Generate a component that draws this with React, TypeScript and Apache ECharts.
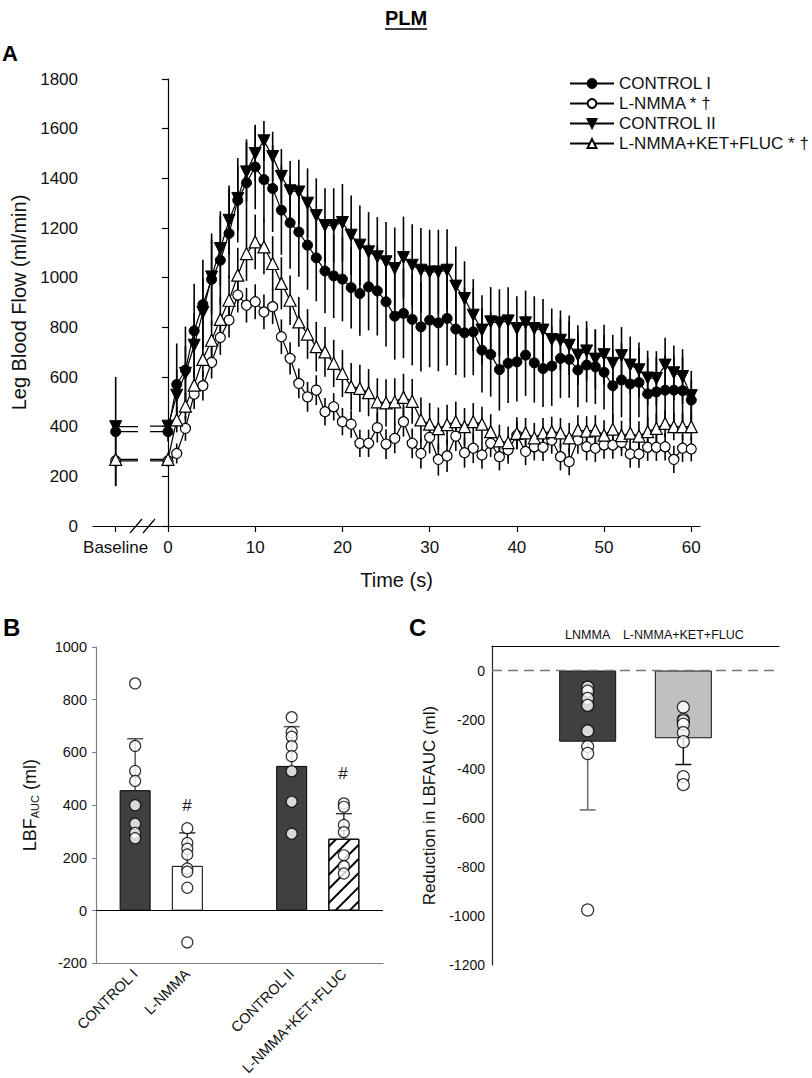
import React, { useEffect, useRef } from "react";
import * as echarts from "echarts";

const FONT = "'Liberation Sans', Arial, Helvetica, sans-serif";

// ---------- Panel A data ----------
const timeSec = [0,1,2,3,4,5,6,7,8,9,10,11,12,13,14,15,16,17,18,19,20,21,22,23,24,25,26,27,28,29,30,31,32,33,34,35,36,37,38,39,40,41,42,43,44,45,46,47,48,49,50,51,52,53,54,55,56,57,58,59,60];
const baselineTickLabel = "Baseline";
const BASELINE_X = -6;
const BREAK_LEFT = -3.44;
const BREAK_MID = -2.75;
const BREAK_RIGHT = -2.06;
const xTickValuesA = [-6, 0, 10, 20, 30, 40, 50, 60];

const seriesNames = ["CONTROL I", "L-NMMA * †", "CONTROL II", "L-NMMA+KET+FLUC * †"];

const baseCtrl1 = 380, baseCtrl1SE = 220;
const baseLnmma = 262, baseLnmmaSE = 100;
const baseCtrl2 = 400, baseCtrl2SE = 20;
const baseKet = 268, baseKetSE = 20;

const ctrl1 = [380,570,628,786,892,993,1070,1178,1312,1382,1446,1395,1359,1272,1221,1184,1131,1080,1027,1007,994,960,936,963,947,903,845,856,832,802,829,818,836,793,778,782,708,691,630,655,661,688,657,634,644,675,671,628,648,641,619,565,588,572,578,532,540,547,547,545,507];
const ctrl2 = [402,527,615,728,860,1003,1117,1231,1319,1426,1500,1551,1488,1408,1350,1345,1300,1250,1210,1210,1222,1171,1131,1104,1084,1064,1037,1081,1050,1030,1023,1023,1030,966,916,849,789,822,818,826,795,818,795,789,751,748,728,688,705,672,690,655,686,648,629,596,594,648,617,602,525];
const lnmma = [262,292,393,531,565,659,759,829,930,889,903,862,883,762,675,574,520,547,460,480,420,410,333,333,396,330,353,420,333,292,357,268,282,362,295,313,286,333,279,306,365,300,319,317,346,279,259,346,319,313,326,326,336,290,290,317,317,319,268,313,310];
const ket = [268,427,483,567,671,748,832,909,1010,1097,1144,1124,1057,977,909,822,773,722,701,655,614,561,554,537,500,496,500,518,502,427,410,392,408,420,400,420,410,380,343,336,373,375,355,375,380,375,355,386,382,386,366,390,364,374,362,380,393,413,400,400,400];

const ctrl1SE = [40,165,175,190,180,185,180,180,170,175,170,170,175,180,185,180,180,175,170,170,170,165,170,175,180,180,175,180,185,180,190,195,190,185,180,175,170,170,165,160,160,165,160,155,160,160,155,150,150,150,150,145,150,145,140,145,140,140,140,135,80];
const ctrl2SE = [20,100,110,130,140,150,150,140,130,120,110,80,100,110,120,130,140,150,150,150,155,160,160,160,160,160,165,165,165,170,170,170,165,160,150,145,140,140,135,135,130,130,130,125,125,120,120,120,120,120,120,115,115,115,110,110,110,110,110,110,100];
const lnmmaSE = [20,40,50,60,60,65,70,70,70,70,70,70,70,70,65,60,60,60,55,55,55,55,55,55,60,60,60,60,60,60,65,65,65,60,60,60,55,55,55,55,55,55,55,55,55,55,55,55,55,55,55,55,55,55,55,55,55,55,55,55,50];
const ketSE = [20,50,55,60,70,80,90,100,110,110,110,110,110,105,100,100,100,100,100,95,95,95,95,95,95,95,95,95,90,90,85,85,80,80,75,75,70,70,65,65,65,60,60,60,60,60,60,60,60,60,60,60,60,60,60,60,60,55,55,55,55];

// ---------- Panel B data ----------
const bCats = ["CONTROL I", "L-NMMA", "CONTROL II", "L-NMMA+KET+FLUC"];
const bPos = [1, 2, 4, 5];
const bMeans = [457, 170, 549, 273];
const bSD = [195, 125, 149, 95];
const bPoints = [
  [862, 625, 530, 492, 400, 330, 295, 275],
  [313, 257, 235, 213, 160, 148, 87, -120],
  [734, 677, 660, 624, 586, 529, 413, 292],
  [407, 394, 325, 298, 210, 169, 141],
];
const bYTicks = { min: -200, max: 1000, step: 200 };

// ---------- Panel C data ----------
const cCats = ["LNMMA", "L-NMMA+KET+FLUC"];
const cPos = [1, 2];
const cMeans = [-290, -276];
const cSD = [278, 107];
const cPoints = [
  [-68, -84, -114, -142, -246, -310, -338, -976],
  [-149, -199, -205, -219, -253, -290, -433, -465],
];
const cYTicks = [-1200, -1000, -800, -600, -400, -200, 0];

const plain = (v: number) => String(v);

function lineData(base: number, vals: number[]) {
  return [
    [BASELINE_X, base],
    { value: [BREAK_LEFT, base], symbol: "none" },
    [BREAK_MID, "-"],
    { value: [BREAK_RIGHT, vals[0]], symbol: "none" },
    ...timeSec.map((t, i) => [t, vals[i]]),
  ];
}

function errData(base: number, baseSE: number, vals: number[], se: number[]) {
  return [
    [BASELINE_X, base - baseSE, base + baseSE],
    ...timeSec.map((t, i) => [t, vals[i] - se[i], vals[i] + se[i]]),
  ];
}

function errSeriesA(data: any[]) {
  return {
    type: "custom",
    xAxisIndex: 0,
    yAxisIndex: 0,
    z: 1,
    silent: true,
    data,
    encode: { x: 0, y: [1, 2] },
    renderItem: (_p: any, api: any) => {
      const x = api.value(0);
      const a = api.coord([x, api.value(1)]);
      const b = api.coord([x, api.value(2)]);
      return {
        type: "line",
        shape: { x1: a[0], y1: a[1], x2: b[0], y2: b[1] },
        style: { stroke: "#000", lineWidth: 1.6 },
      };
    },
  };
}

function capErrSeries(xi: number, yi: number, data: any[], colors: string[], capHalf: number) {
  return {
    type: "custom",
    xAxisIndex: xi,
    yAxisIndex: yi,
    z: 4,
    silent: true,
    data,
    encode: { x: 0, y: [1, 2] },
    renderItem: (p: any, api: any) => {
      const x = api.value(0);
      const a = api.coord([x, api.value(1)]);
      const b = api.coord([x, api.value(2)]);
      const c = colors[p.dataIndex];
      return {
        type: "group",
        children: [
          { type: "line", shape: { x1: a[0], y1: a[1], x2: b[0], y2: b[1] }, style: { stroke: c, lineWidth: 1.5 } },
          { type: "line", shape: { x1: b[0] - capHalf, y1: b[1], x2: b[0] + capHalf, y2: b[1] }, style: { stroke: c, lineWidth: 1.5 } },
        ],
      };
    },
  };
}

const openStyle = { color: "#fff", borderColor: "#000", borderWidth: 1.2 };
const filledStyle = { color: "#000", borderColor: "#000", borderWidth: 1 };

export default function App() {
  const ref = useRef<HTMLDivElement>(null);
  useEffect(() => {
    if (!ref.current) return;
    const chart = echarts.init(ref.current, null, { renderer: "svg" });

    const lineCommon = {
      type: "line",
      xAxisIndex: 0,
      yAxisIndex: 0,
      z: 3,
      lineStyle: { color: "#000", width: 1.2 },
    };

    const option: any = {
      animation: false,
      textStyle: { fontFamily: FONT, color: "#111" },
      grid: [
        { left: 93, top: 79, width: 607, height: 447 },
        { left: 96, top: 647, width: 287, height: 319 },
        { left: 492, top: 646, width: 287, height: 319 },
      ],
      legend: {
        data: seriesNames,
        orient: "vertical",
        left: 564,
        top: 70,
        itemWidth: 44,
        itemHeight: 11,
        itemGap: 3,
        textStyle: { fontSize: 17, color: "#111", fontFamily: FONT, lineHeight: 17 },
      },
      xAxis: [
        {
          type: "value",
          gridIndex: 0,
          min: -8.6,
          max: 61,
          splitLine: { show: false },
          axisLine: { lineStyle: { color: "#000", width: 1.2 } },
          axisTick: { customValues: xTickValuesA, length: 6, lineStyle: { color: "#000", width: 1.2 } },
          axisLabel: {
            customValues: xTickValuesA,
            formatter: (v: number) => (v === BASELINE_X ? baselineTickLabel : String(v)),
            fontSize: 17,
            color: "#111",
            margin: 13,
          },
          name: "Time (s)",
          nameLocation: "middle",
          nameGap: 44,
          nameTextStyle: { fontSize: 20, color: "#111" },
        },
        {
          type: "value",
          gridIndex: 1,
          min: 0.25,
          max: 5.75,
          splitLine: { show: false },
          axisLine: { onZero: false, lineStyle: { color: "#808080", width: 1.2 } },
          axisTick: { show: false },
          axisLabel: {
            customValues: bPos,
            formatter: (v: number) => bCats[bPos.indexOf(v)] || "",
            rotate: 45,
            fontSize: 14.5,
            color: "#111",
            margin: 8,
          },
        },
        {
          type: "value",
          gridIndex: 2,
          position: "top",
          min: 0,
          max: 3,
          splitLine: { show: false },
          axisLine: { onZero: false, lineStyle: { color: "#000", width: 1.2 } },
          axisTick: { show: false },
          axisLabel: {
            customValues: cPos,
            formatter: (v: number) => cCats[cPos.indexOf(v)] || "",
            fontSize: 12.5,
            color: "#111",
            margin: 5,
          },
        },
      ],
      yAxis: [
        {
          type: "value",
          gridIndex: 0,
          min: 0,
          max: 1800,
          interval: 200,
          splitLine: { show: false },
          axisLine: { show: true, lineStyle: { color: "#000", width: 1.2 } },
          axisTick: { show: true, length: 6, lineStyle: { color: "#000", width: 1.2 } },
          axisLabel: { fontSize: 17, color: "#111", margin: 15, formatter: plain },
          name: "Leg Blood Flow (ml/min)",
          nameLocation: "middle",
          nameGap: 62,
          nameTextStyle: { fontSize: 20, color: "#111" },
        },
        {
          type: "value",
          gridIndex: 1,
          min: bYTicks.min,
          max: bYTicks.max,
          interval: bYTicks.step,
          splitLine: { show: false },
          axisLine: { show: true, onZero: false, lineStyle: { color: "#808080", width: 1.2 } },
          axisTick: { show: true, length: 4, lineStyle: { color: "#808080" } },
          axisLabel: { fontSize: 14.5, color: "#111", margin: 9, formatter: plain },
          name: "LBF{sub|AUC} (ml)",
          nameLocation: "middle",
          nameGap: 56,
          nameTextStyle: {
            fontSize: 18,
            color: "#111",
            rich: { sub: { fontSize: 11, color: "#111", padding: [9, 0, 0, 0] } },
          },
        },
        {
          type: "value",
          gridIndex: 2,
          min: -1200,
          max: 100,
          splitLine: { show: false },
          axisLine: { show: true, onZero: false, lineStyle: { color: "#222", width: 1.2 } },
          axisTick: { show: false, customValues: cYTicks },
          axisLabel: { customValues: cYTicks, fontSize: 14, color: "#111", margin: 7, formatter: plain },
          name: "Reduction in LBFAUC (ml)",
          nameLocation: "middle",
          nameGap: 54,
          nameTextStyle: { fontSize: 17, color: "#111" },
        },
      ],
      series: [
        errSeriesA(errData(baseCtrl1, baseCtrl1SE, ctrl1, ctrl1SE)),
        errSeriesA(errData(baseLnmma, baseLnmmaSE, lnmma, lnmmaSE)),
        errSeriesA(errData(baseCtrl2, baseCtrl2SE, ctrl2, ctrl2SE)),
        errSeriesA(errData(baseKet, baseKetSE, ket, ketSE)),
        {
          ...lineCommon,
          name: seriesNames[0],
          symbol: "circle",
          symbolSize: 10,
          itemStyle: filledStyle,
          data: lineData(baseCtrl1, ctrl1),
        },
        {
          ...lineCommon,
          name: seriesNames[1],
          symbol: "circle",
          symbolSize: 10,
          itemStyle: openStyle,
          data: lineData(baseLnmma, lnmma),
        },
        {
          ...lineCommon,
          name: seriesNames[2],
          symbol: "triangle",
          symbolRotate: 180,
          symbolSize: 12,
          itemStyle: filledStyle,
          data: lineData(baseCtrl2, ctrl2),
        },
        {
          ...lineCommon,
          name: seriesNames[3],
          symbol: "triangle",
          symbolSize: 12,
          itemStyle: openStyle,
          data: lineData(baseKet, ket),
        },
        // Panel B
        {
          type: "bar",
          xAxisIndex: 1,
          yAxisIndex: 1,
          barWidth: 31,
          z: 2,
          data: bPos.map((p, i) => ({
            value: [p, bMeans[i]],
            itemStyle: {
              color: i === 0 || i === 2 ? "#404040" : "#ffffff",
              borderColor: "#000",
              borderWidth: 1,
              decal:
                i === 3
                  ? {
                      symbol: "rect",
                      symbolSize: 1,
                      color: "#000",
                      dashArrayX: [1, 0],
                      dashArrayY: [1.3, 8],
                      rotation: -Math.PI / 4,
                    }
                  : undefined,
            },
          })),
          markLine: {
            silent: true,
            symbol: "none",
            label: { show: false },
            lineStyle: { color: "#000", type: "solid", width: 1.2 },
            data: [{ yAxis: 0 }],
          },
        },
        capErrSeries(
          1,
          1,
          bPos.map((p, i) => [p, bMeans[i], bMeans[i] + bSD[i]]),
          ["#555", "#333", "#555", "#333"],
          8
        ),
        {
          type: "scatter",
          xAxisIndex: 1,
          yAxisIndex: 1,
          z: 5,
          symbol: "circle",
          symbolSize: 11,
          itemStyle: openStyle,
          data: bPoints.flatMap((arr, i) => arr.map((v) => [bPos[i], v])),
        },
        // Panel C
        {
          type: "bar",
          xAxisIndex: 2,
          yAxisIndex: 2,
          barWidth: 57,
          z: 2,
          data: cPos.map((p, i) => ({
            value: [p, cMeans[i]],
            itemStyle: {
              color: i === 0 ? "#404040" : "#c0c0c0",
              borderColor: "#111",
              borderWidth: 1,
            },
          })),
          markLine: {
            silent: true,
            symbol: "none",
            label: { show: false },
            lineStyle: { color: "#777", type: [10, 6], width: 1.3 },
            data: [{ yAxis: 0 }],
          },
        },
        capErrSeries(
          2,
          2,
          cPos.map((p, i) => [p, cMeans[i], cMeans[i] - cSD[i]]),
          ["#6a6a6a", "#111"],
          8
        ),
        {
          type: "scatter",
          xAxisIndex: 2,
          yAxisIndex: 2,
          z: 5,
          symbol: "circle",
          symbolSize: 12,
          itemStyle: openStyle,
          data: cPoints.flatMap((arr, i) => arr.map((v) => [cPos[i], v])),
        },
      ],
      graphic: [
        {
          type: "text",
          x: 406,
          y: 18,
          style: { text: "PLM", fontSize: 20, fontWeight: "bold", fontFamily: FONT, fill: "#000", align: "center", verticalAlign: "middle" },
        },
        { type: "line", shape: { x1: 385, y1: 29, x2: 427, y2: 29 }, style: { stroke: "#000", lineWidth: 1.5 } },
        {
          type: "text",
          x: 2,
          y: 53,
          style: { text: "A", fontSize: 22, fontWeight: "bold", fontFamily: FONT, fill: "#000", verticalAlign: "middle" },
        },
        {
          type: "text",
          x: 3,
          y: 627,
          style: { text: "B", fontSize: 24, fontWeight: "bold", fontFamily: FONT, fill: "#000", verticalAlign: "middle" },
        },
        {
          type: "text",
          x: 409,
          y: 627,
          style: { text: "C", fontSize: 24, fontWeight: "bold", fontFamily: FONT, fill: "#000", verticalAlign: "middle" },
        },
        { type: "line", shape: { x1: 130, y1: 533, x2: 142, y2: 519 }, style: { stroke: "#000", lineWidth: 1.2 } },
        { type: "line", shape: { x1: 143, y1: 533, x2: 155, y2: 519 }, style: { stroke: "#000", lineWidth: 1.2 } },
        {
          type: "text",
          x: 187,
          y: 805,
          style: { text: "#", fontSize: 17, fontFamily: FONT, fill: "#111", align: "center", verticalAlign: "middle" },
        },
        {
          type: "text",
          x: 343,
          y: 773,
          style: { text: "#", fontSize: 17, fontFamily: FONT, fill: "#111", align: "center", verticalAlign: "middle" },
        },
      ],
    };

    chart.setOption(option);
    return () => chart.dispose();
  }, []);

  return (
    <div
      ref={ref}
      style={{ position: "absolute", left: 0, top: 0, width: 812, height: 1078, background: "#fff" }}
    />
  );
}
